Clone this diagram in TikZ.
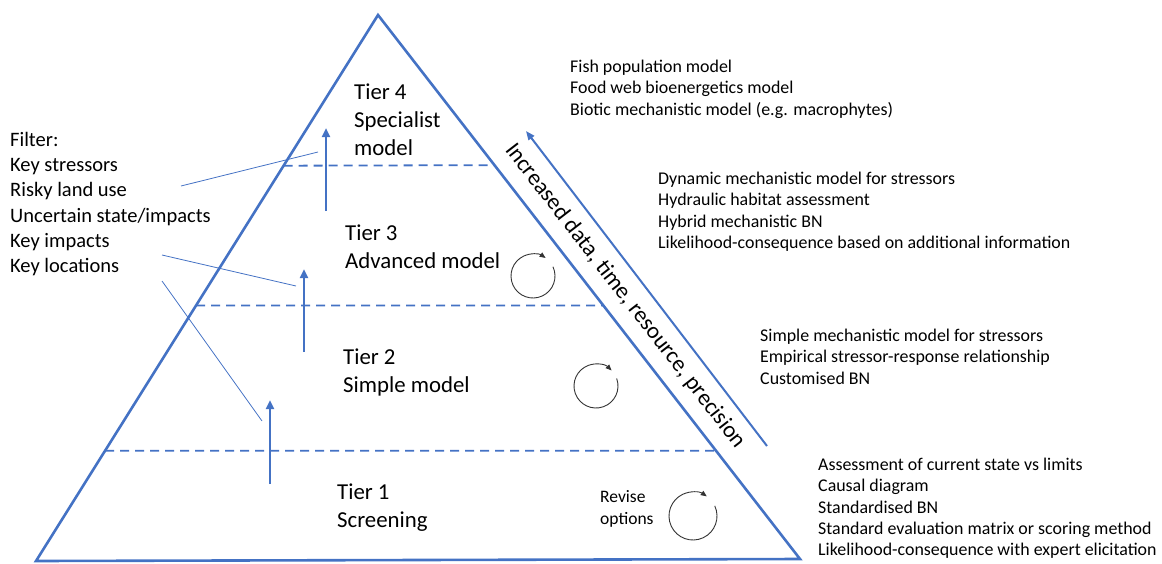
\documentclass[tikz,border=0pt]{standalone}
\usepackage{fontspec}
\setmainfont{Carlito}
\usetikzlibrary{calc,arrows.meta}
\definecolor{tierblue}{HTML}{4472C4}
\begin{document}
\begin{tikzpicture}[x=1pt,y=1pt,
	tiertext/.style={anchor=north west,inner sep=0pt,align=left,font=\fontsize{22.8}{28}\selectfont},
	listtext/.style={anchor=north west,inner sep=0pt,align=left,font=\fontsize{17.9}{21.3}\selectfont},
	tierline/.style={tierblue,dash pattern=on 9pt off 6pt,line width=1.8pt},
	uparrow/.style={tierblue,line width=2.8pt,-{Triangle[length=9pt,width=8pt]}},
	filterline/.style={tierblue,line width=0.8pt},
	revise/.style={black!80,line width=0.9pt,-{Triangle[length=6pt,width=5pt]}}]
	\useasboundingbox (0,0) rectangle (1162,-563);

	% Triangulo
	\coordinate (apex) at (378,-15);
	\coordinate (bl) at (36,-561);
	\coordinate (br) at (800,-559);
	\draw[tierblue,line width = 2.6pt,line join=miter] (bl) -- (apex) -- (br) -- cycle;

	% Niveles
	\draw[tierline] ($(apex)!0.276!(bl)$) -- ($(apex)!0.276!(br)$);
	\draw[tierline] ($(apex)!0.532!(bl)$) -- ($(apex)!0.534!(br)$);
	\draw[tierline] ($(apex)!0.798!(bl)$) -- ($(apex)!0.801!(br)$);

	\node[tiertext] (tier4) at (354,-84) {Tier 4\\Specialist\\model};
	\node[tiertext] (tier3) at (345,-225) {Tier 3\\Advanced model};
	\node[tiertext] (tier2) at (343,-349) {Tier 2\\Simple model};
	\node[tiertext] (tier1) at (337,-484) {Tier 1\\Screening};

	% Flechas entre niveles
	\coordinate (a4s) at (326,-211); \coordinate (a4e) at (326,-128);
	\coordinate (a3s) at (304,-352); \coordinate (a3e) at (304,-269);
	\coordinate (a2s) at (270,-484); \coordinate (a2e) at (270,-400);
	\draw[uparrow] (a4s) -- (a4e);
	\draw[uparrow] (a3s) -- (a3e);
	\draw[uparrow] (a2s) -- (a2e);

	% Filtro
	\node[anchor=north west,inner sep=0pt,align=left,font=\fontsize{20.5}{25.2}\selectfont] (filter) at (10,-132)
		{Filter:\\Key stressors\\Risky land use\\Uncertain state/impacts\\Key impacts\\Key locations};
	\coordinate (f1s) at (181,-186); \coordinate (f1e) at (318,-152);
	\coordinate (f2s) at (162,-255); \coordinate (f2e) at (296,-286);
	\coordinate (f3s) at (162,-281); \coordinate (f3e) at (262,-421);
	\draw[filterline] (f1s) -- (f1e);
	\draw[filterline] (f2s) -- (f2e);
	\draw[filterline] (f3s) -- (f3e);

	% Ciclos de revision
	\coordinate (c3) at (533,-276);
	\coordinate (c2) at (596,-386);
	\coordinate (c1) at (693,-516);
	\draw[revise] ($(c3)+(25:22)$) arc[start angle=25,end angle=-305,radius=22];
	\draw[revise] ($(c2)+(20:22)$) arc[start angle=20,end angle=-315,radius=22];
	\draw[revise] ($(c1)+(25:24)$) arc[start angle=25,end angle=-305,radius=24];
	\node[anchor=north west,inner sep=0pt,align=left,font=\fontsize{17.5}{22}\selectfont] (revopt) at (600,-490) {Revise\\options};

	% Flecha lateral
	\coordinate (incs) at (767,-446);
	\coordinate (ince) at (526,-131);
	\draw[tierblue,line width=2pt,-{Triangle[length=9pt,width=7pt]}] (incs) -- (ince);
	\node[rotate=-52.3,inner sep=0pt,font=\fontsize{23}{25}\selectfont] (incr) at (625,-296)
		{Increased data, time, resource, precision};

	% Modelos
	\node[listtext] (list4) at (570,-60) {Fish population model\\Food web bioenergetics model\\Biotic mechanistic model (e.g. macrophytes)};
	\node[listtext] (list3) at (658,-172) {Dynamic mechanistic model for stressors\\Hydraulic habitat assessment\\Hybrid mechanistic BN\\Likelihood-consequence based on additional information};
	\node[listtext] (list2) at (760,-329) {Simple mechanistic model for stressors\\Empirical stressor-response relationship\\Customised BN};
	\node[listtext] (list1) at (818,-458) {Assessment of current state vs limits\\Causal diagram\\Standardised BN\\Standard evaluation matrix or scoring method\\Likelihood-consequence with expert elicitation};
\end{tikzpicture}
\end{document}
